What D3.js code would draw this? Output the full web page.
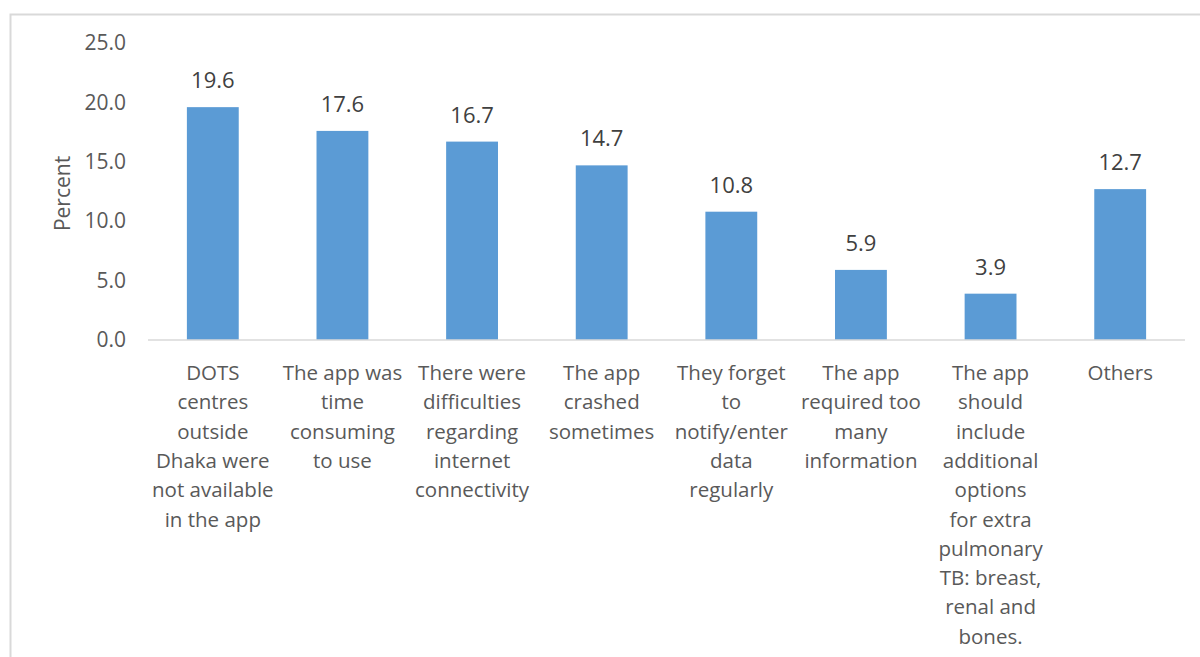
<!DOCTYPE html>
<html>
<head>
<meta charset="utf-8">
<script src="https://cdn.jsdelivr.net/npm/d3@7"></script>
<style>
  html, body { margin: 0; padding: 0; background: #fff; }
  svg { display: block; }
  text { font-family: "Open Sans", "Lato", sans-serif; }
</style>
</head>
<body>
<svg id="chart" width="1200" height="657"></svg>
<script>
// Reasons reported, one array entry per category (line-broken labels)
const categories = [
  ["DOTS", "centres", "outside", "Dhaka were", "not available", "in the app"],
  ["The app was", "time", "consuming", "to use"],
  ["There were", "difficulties", "regarding", "internet", "connectivity"],
  ["The app", "crashed", "sometimes"],
  ["They forget", "to", "notify/enter", "data", "regularly"],
  ["The app", "required too", "many", "information"],
  ["The app", "should", "include", "additional", "options", "for extra", "pulmonary", "TB: breast,", "renal and", "bones."],
  ["Others"]
];
const values = [19.6, 17.6, 16.7, 14.7, 10.8, 5.9, 3.9, 12.7];
const yTicks = [0, 5, 10, 15, 20, 25];
const yTitle = "Percent";

const svg = d3.select("#chart");
const catFont = 20.5;
const tickFont = 21;
const valueFont = 22;

// Outer chart frame
svg.append("rect")
  .attr("x", 10.5).attr("y", 14.5)
  .attr("width", 1300).attr("height", 800)
  .attr("fill", "none").attr("stroke", "#d9d9d9").attr("stroke-width", 2);

const plot = { left: 148, right: 1185, top: 43, bottom: 340 };

const x = d3.scaleBand()
  .domain(d3.range(categories.length))
  .range([plot.left, plot.right])
  .paddingInner(0.6)
  .paddingOuter(0.3);

const y = d3.scaleLinear()
  .domain([0, 25])
  .range([plot.bottom, plot.top]);

// Y axis tick labels (no axis line, no tick marks)
const yAxis = d3.axisLeft(y)
  .tickValues(yTicks)
  .tickFormat(d3.format(".1f"))
  .tickSize(0)
  .tickPadding(0);
const yg = svg.append("g")
  .attr("transform", `translate(126,0)`)
  .call(yAxis);
yg.select(".domain").remove();
yg.selectAll("text")
  .attr("font-size", tickFont)
  .attr("fill", "#595959")
  .style("font-family", "'Open Sans', Lato, sans-serif");

// Bars
svg.append("g").selectAll("rect")
  .data(values)
  .join("rect")
  .attr("x", (d, i) => x(i))
  .attr("y", d => y(d))
  .attr("width", x.bandwidth())
  .attr("height", d => y(0) - y(d))
  .attr("fill", "#5b9bd5");

// Baseline
svg.append("line")
  .attr("x1", plot.left).attr("x2", plot.right)
  .attr("y1", y(0)).attr("y2", y(0))
  .attr("stroke", "#d9d9d9").attr("stroke-width", 1.5);

// Value labels above bars
svg.append("g").selectAll("text")
  .data(values)
  .join("text")
  .attr("x", (d, i) => x(i) + x.bandwidth() / 2)
  .attr("y", d => y(d) - 28)
  .attr("text-anchor", "middle")
  .attr("dominant-baseline", "central")
  .attr("font-size", valueFont)
  .attr("fill", "#404040")
  .text(d => d3.format(".1f")(d));

// Category labels, multi-line
const lineH = 29.3;
const catG = svg.append("g");
categories.forEach((lines, i) => {
  const t = catG.append("text")
    .attr("text-anchor", "middle")
    .attr("font-size", catFont)
    .attr("fill", "#595959");
  lines.forEach((ln, j) => {
    t.append("tspan")
      .attr("x", x(i) + x.bandwidth() / 2)
      .attr("y", 372 + j * lineH)
      .attr("dominant-baseline", "central")
      .text(ln);
  });
});

// Y axis title
svg.append("text")
  .attr("transform", `translate(62,${(plot.top + plot.bottom) / 2 + 2}) rotate(-90)`)
  .attr("text-anchor", "middle")
  .attr("dominant-baseline", "central")
  .attr("font-size", tickFont)
  .attr("fill", "#595959")
  .text(yTitle);
</script>
</body>
</html>
